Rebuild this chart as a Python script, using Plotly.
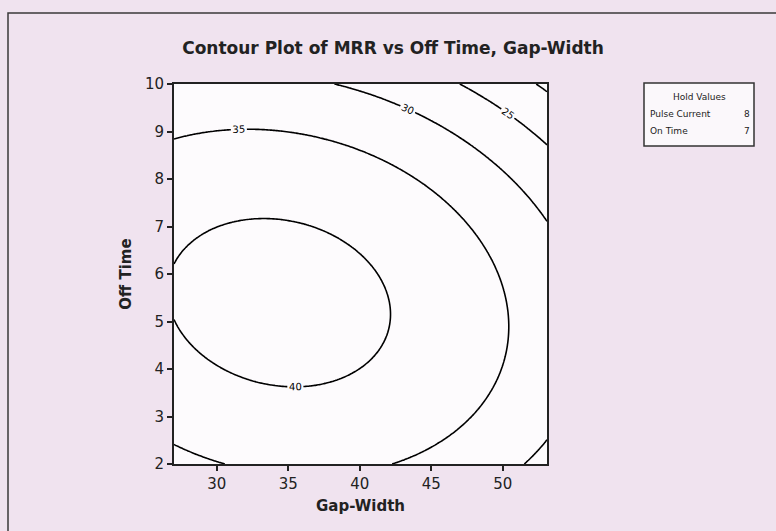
import numpy as np
import plotly.graph_objects as go

pt_gap = [27.0, 33.0, 37.9, 42.8, 40.25, 35.8, 30.9, 27.0,
          27.0, 33.3, 40.25, 46.1, 49.6, 50.6, 49.3, 45.6, 42.6, 27.0, 30.7,
          38.2, 43.75, 48.4, 53.1, 51.4, 53.1,
          47.0, 49.2, 53.1,
          52.6, 53.1]
pt_off = [6.33, 7.26, 6.72, 5.18, 4.05, 3.54, 3.91, 4.93,
          8.82, 9.02, 8.61, 7.35, 5.59, 5.17, 3.49, 2.5, 2.0, 2.47, 2.0,
          10.0, 9.45, 8.54, 7.17, 2.0, 2.5,
          10.0, 9.56, 8.72,
          10.0, 9.84]
pt_mrr = [40, 40, 40, 40, 40, 40, 40, 40,
          35, 35, 35, 35, 35, 35, 35, 35, 35, 35, 35,
          30, 30, 30, 30, 30, 30,
          25, 25, 25,
          20, 20]

x_ticks = [30, 35, 40, 45, 50]
y_ticks = [2, 3, 4, 5, 6, 7, 8, 9, 10]
levels = [20, 25, 30, 35, 40]
hold_names = ["Pulse Current", "On Time"]
hold_vals = ["8", "7"]

# Fit a quadratic response surface to the read points
X = np.array(pt_gap); Y = np.array(pt_off); Z = np.array(pt_mrr, dtype=float)
A = np.column_stack([np.ones_like(X), X, Y, X**2, Y**2, X*Y])
coef, *_ = np.linalg.lstsq(A, Z, rcond=None)

gx = np.linspace(27.0, 53.1, 200)
gy = np.linspace(2, 10, 200)
GX, GY = np.meshgrid(gx, gy)
GZ = (coef[0] + coef[1]*GX + coef[2]*GY + coef[3]*GX**2 + coef[4]*GY**2 + coef[5]*GX*GY)

fig = go.Figure()
fig.add_trace(go.Contour(
    x=gx, y=gy, z=GZ,
    contours=dict(coloring="lines", start=min(levels), end=max(levels), size=5,
                  showlabels=True, labelfont=dict(size=10, color="black", family="DejaVu Sans")),
    colorscale=[[0, "black"], [1, "black"]],
    line=dict(width=1.6),
    showscale=False, hoverinfo="skip"))

L, R, T, B = 174, 776 - 547, 84, 531 - 464
W, H = 776 - L - R, 531 - T - B
def px(x): return (x - L) / W
def py(y): return (531 - B - y) / H

shapes = [
    dict(type="rect", xref="paper", yref="paper", x0=px(8), x1=px(790), y0=py(545), y1=py(13),
         line=dict(color="#3a3a3a", width=1.5), fillcolor="rgba(0,0,0,0)", layer="below"),
    dict(type="rect", xref="paper", yref="paper", x0=px(644), x1=px(754), y0=py(146), y1=py(83),
         line=dict(color="#333333", width=1.5), fillcolor="#fbf8fb"),
]
ann = [
    dict(text="Hold Values", x=px(699), y=py(97), xref="paper", yref="paper", showarrow=False,
         font=dict(size=9, color="#222"), xanchor="center", yanchor="middle"),
]
for i, (n, v) in enumerate(zip(hold_names, hold_vals)):
    yy = py(114 + 17 * i)
    ann.append(dict(text=n, x=px(648), y=yy, xref="paper", yref="paper", showarrow=False,
                    font=dict(size=9, color="#222"), xanchor="left", yanchor="middle"))
    ann.append(dict(text=v, x=px(752), y=yy, xref="paper", yref="paper", showarrow=False,
                    font=dict(size=9, color="#222"), xanchor="right", yanchor="middle"))

fig.update_layout(
    width=776, height=531,
    margin=dict(l=L, r=R, t=T, b=B),
    paper_bgcolor="#f0e3ef", plot_bgcolor="#fdfbfd",
    font=dict(family="DejaVu Sans", color="#222"),
    title=dict(text="<b>Contour Plot of MRR vs Off Time, Gap-Width</b>", x=px(393), xref="paper",
               y=1 - 48/531, yanchor="middle", xanchor="center", font=dict(size=17, color="#222")),
    xaxis=dict(range=[27.0, 53.1], tickvals=x_ticks, ticks="outside", ticklen=5, tickwidth=1.5,
               tickcolor="#222", showline=True, linecolor="#222", linewidth=2, mirror=True,
               showgrid=False, zeroline=False, tickfont=dict(size=15),
               title=dict(text="<b>Gap-Width</b>", font=dict(size=15), standoff=8)),
    yaxis=dict(range=[2, 10], tickvals=y_ticks, ticks="outside", ticklen=5, tickwidth=1.5,
               tickcolor="#222", showline=True, linecolor="#222", linewidth=2, mirror=True,
               showgrid=False, zeroline=False, tickfont=dict(size=15),
               title=dict(text="<b>Off Time</b>", font=dict(size=15), standoff=10)),
    shapes=shapes, annotations=ann, showlegend=False)

fig.write_html("out.html")
